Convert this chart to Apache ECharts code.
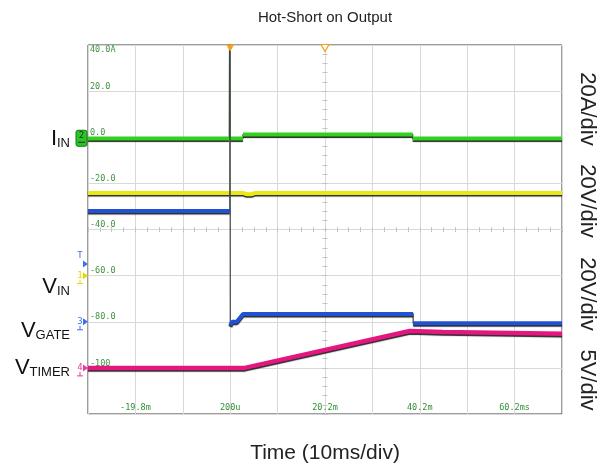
<!DOCTYPE html>
<html>
<head>
<meta charset="utf-8">
<title>Hot-Short on Output</title>
<script src="https://cdn.jsdelivr.net/npm/echarts@6/dist/echarts.min.js"></script>
<style>
html,body{margin:0;padding:0;background:#fff;}
#main{width:610px;height:471px;}
</style>
</head>
<body>
<div id="main"></div>
<script>
// time axis in ms, 10ms/div, trigger offset 200us
var timeTicks = ['', '-19.8m', '', '200u', '', '20.2m', '', '40.2m', '', '60.2ms', ''];
// scope graticule labels (ch2 scale, 20A/div)
var iinTicks = ['', '-100', '-80.0', '-60.0', '-40.0', '-20.0', '0.0', '20.0', '40.0A'];
// trigger / delay cursors at the top (ms)
var cursorTimes = [0.2, 20.2];

// traces: [time ms, value]
var iinData = [[-29.8, -0.5], [0.0, -0.5], [0.08, 60], [0.16, -0.5], [2.9, -0.5], [2.9, 1.2], [38.7, 1.2], [38.7, -0.5], [70.2, -0.5]];   // A
var vinData = [[-29.8, 35.8], [3.0, 35.8], [3.6, 35.3], [4.8, 35.3], [5.4, 35.8], [70.2, 35.8]];   // V
var vgateData = [[-29.8, 48.0], [0.1, 48.0], [0.16, 150], [0.22, -1.6], [0.6, 0], [1.6, 0], [2.9, 3.4], [38.8, 3.4], [38.8, -0.6], [70.2, -0.6]];   // V
var vtimerData = [[-29.8, 0], [3.3, 0], [38.1, 4.0], [45, 3.9], [70.2, 3.7]];   // V

var FONT = "'Liberation Sans', Arial, sans-serif";
var MONO = "'DejaVu Sans Mono', monospace";
var GRID = '#d9d9d9';

var chart = echarts.init(document.getElementById('main'));

//fast edges are drawn only as a thin dark line, so break the coloured trace there
function gapped(data){
	var out = [];
	for(var i = 0; i < data.length; i++){
		if(i > 0 && data[i][0] - data[i-1][0] < 0.3){
			out.push([data[i][0], '-']);
		}
		out.push(data[i]);
	}
	return out;
}

function trace(name, data, yIdx, color, w, z){
	return [{
		type: 'line', name: name + '-edge', data: data, yAxisIndex: yIdx,
		symbol: 'none', silent: true, z: z,
		lineStyle: {color: '#3e4a3e', width: 1.2}
	}, {
		type: 'line', name: name, data: gapped(data), yAxisIndex: yIdx,
		symbol: 'none', silent: true, z: z,
		lineStyle: {color: color, width: w, shadowColor: 'rgba(0,0,0,0.85)', shadowBlur: 1, shadowOffsetY: 1.5}
	}];
}

//small ticks on the centre cross of the graticule
function centreX(inside){
	return {
		type: 'value', min: -29.8, max: 70.2, interval: 10, position: 'bottom', offset: -184.5,
		axisLine: {show: false, onZero: false},
		axisTick: {show: true, inside: inside, length: 2.5, lineStyle: {color: '#c4c4c4'}},
		minorTick: {show: true, splitNumber: 4, length: 2.5, lineStyle: {color: '#c4c4c4'}},
		axisLabel: {show: false}, splitLine: {show: false}
	};
}
function centreY(inside){
	return {
		type: 'value', min: -120, max: 40, interval: 20, position: 'left', offset: -237,
		axisLine: {show: false, onZero: false},
		axisTick: {show: true, inside: inside, length: 2.5, lineStyle: {color: '#c4c4c4'}},
		minorTick: {show: true, splitNumber: 5, length: 2.5, lineStyle: {color: '#c4c4c4'}},
		axisLabel: {show: false}, splitLine: {show: false}
	};
}

var series = [].concat(
	trace('VIN', vinData, 2, '#e9e812', 4, 2),
	trace('IIN', iinData, 0, '#33d11f', 4, 3),
	trace('VGATE', vgateData, 3, '#2152d6', 4, 4),
	trace('VTIMER', vtimerData, 4, '#e3177f', 4.5, 5)
);
//cursors on top edge
series[3].markPoint = {
	silent: true,
	label: {show: false},
	symbol: 'triangle', symbolRotate: 180, symbolSize: [8, 7], symbolOffset: [0, 3],
	data: [
		{coord: [cursorTimes[0], 40], itemStyle: {color: '#f2a21c'}},
		{coord: [cursorTimes[1], 40], itemStyle: {color: '#fff', borderColor: '#f2a21c', borderWidth: 1.2}}
	]
};

var option = {
	animation: false,
	backgroundColor: '#fff',
	grid: {left: 88, top: 45, width: 474, height: 369, outerBoundsMode: 'none', show: true, borderColor: '#3a3a3a', borderWidth: 1, backgroundColor: '#fff'},
	xAxis: [{
		type: 'value', min: -29.8, max: 70.2, interval: 10, position: 'bottom',
		axisLine: {show: false, onZero: false}, axisTick: {show: false},
		splitLine: {show: true, lineStyle: {color: GRID, width: 1}},
		axisLabel: {
			inside: true, margin: 2, color: '#2f8f35', fontFamily: MONO, fontSize: 8.5,
			showMinLabel: true, showMaxLabel: true,
			formatter: function(v, i){ return timeTicks[i] || ''; }
		},
		name: 'Time (10ms/div)', nameLocation: 'middle', nameGap: 29,
		nameTextStyle: {fontFamily: FONT, fontSize: 21, color: '#222'}
	}, centreX(true), centreX(false)],
	yAxis: [{
		type: 'value', min: -120, max: 40, interval: 20, position: 'left',
		axisLine: {show: false, onZero: false}, axisTick: {show: false},
		splitLine: {show: true, lineStyle: {color: GRID, width: 1}},
		axisLabel: {
			inside: true, margin: 2, verticalAlign: 'bottom', color: '#3f9340', fontFamily: MONO, fontSize: 8.5,
			formatter: function(v, i){ return i < iinTicks.length - 1 ? iinTicks[i] : ''; }
		}
	}, {
		type: 'value', min: -120, max: 40, interval: 20, position: 'left',
		axisLine: {show: false, onZero: false}, axisTick: {show: false}, splitLine: {show: false},
		axisLabel: {
			inside: true, margin: 2, verticalAlign: 'top', color: '#3f9340', fontFamily: MONO, fontSize: 8.5,
			formatter: function(v, i){ return i === iinTicks.length - 1 ? iinTicks[i] : ''; }
		}
	},
	{type: 'value', min: -60, max: 100, show: false},   // ch1 VIN 20V/div
	{type: 'value', min: -40, max: 120, show: false},   // ch3 VGATE 20V/div
	{type: 'value', min: -5, max: 35, show: false},     // ch4 VTIMER 5V/div
	centreY(true), centreY(false)],
	series: series
};
chart.setOption(option);

//labels and channel markers, placed from the channel zero levels
var g = [];
g.push({type: 'text', x: 325, y: 18, style: {text: 'Hot-Short on Output', font: '15px ' + FONT, fill: '#222', align: 'center', verticalAlign: 'middle'}});

var perDiv = [['20A/div', 109], ['20V/div', 201], ['20V/div', 294], ['5V/div', 380]];
perDiv.forEach(function(p){
	g.push({type: 'text', x: 587, y: p[1], rotation: -Math.PI / 2,
		style: {text: p[0], font: '22px ' + FONT, fill: '#222', align: 'center', verticalAlign: 'middle'}});
});

var names = [['I', 'IN', 149.5], ['V', 'IN', 297.5], ['V', 'GATE', 341.5], ['V', 'TIMER', 378.5]];
names.forEach(function(n){
	g.push({type: 'text', x: 70, y: n[2], style: {
		text: '{a|' + n[0] + '}{b|' + n[1] + '}', align: 'right', verticalAlign: 'bottom',
		rich: {
			a: {fontSize: 22, lineHeight: 22, fontFamily: FONT, fill: '#111', verticalAlign: 'bottom'},
			b: {fontSize: 13, lineHeight: 13, fontFamily: FONT, fill: '#111', verticalAlign: 'bottom'}
		}
	}});
});

//channel ground markers
var marks = [['1', 2, 0, '#e3d800'], ['3', 3, 0, '#3f6fe8'], ['4', 4, 0, '#e83c98'], ['T', 3, 25, '#3f6fe8']];
marks.forEach(function(m){
	var y = chart.convertToPixel({yAxisIndex: m[1]}, m[2]);
	g.push({type: 'polygon', shape: {points: [[83, y - 3.5], [88, y], [83, y + 3.5]]}, style: {fill: m[3]}});
	g.push({type: 'text', x: 80, y: m[0] === 'T' ? y - 8 : y, style: {text: m[0], font: '9px ' + MONO, fill: m[3], align: 'center', verticalAlign: 'middle'}});
	if(m[0] !== 'T'){
		g.push({type: 'polyline', shape: {points: [[80, y + 4], [80, y + 8]]}, style: {stroke: m[3], lineWidth: 1}});
		g.push({type: 'polyline', shape: {points: [[77, y + 8], [83, y + 8]]}, style: {stroke: m[3], lineWidth: 1}});
	}
});
var y2 = chart.convertToPixel({yAxisIndex: 0}, 0);
g.push({type: 'rect', shape: {x: 76, y: y2 - 7, width: 11, height: 16, r: 2}, style: {fill: '#2fc22a', stroke: '#157a15', lineWidth: 1}});
g.push({type: 'text', x: 81.5, y: y2 - 2, style: {text: '2', font: '9px ' + MONO, fill: '#0b3d0b', align: 'center', verticalAlign: 'middle'}});
g.push({type: 'polyline', shape: {points: [[78, y2 + 5], [85, y2 + 5]]}, style: {stroke: '#0b3d0b', lineWidth: 1}});

chart.setOption({graphic: g});
</script>
</body>
</html>
